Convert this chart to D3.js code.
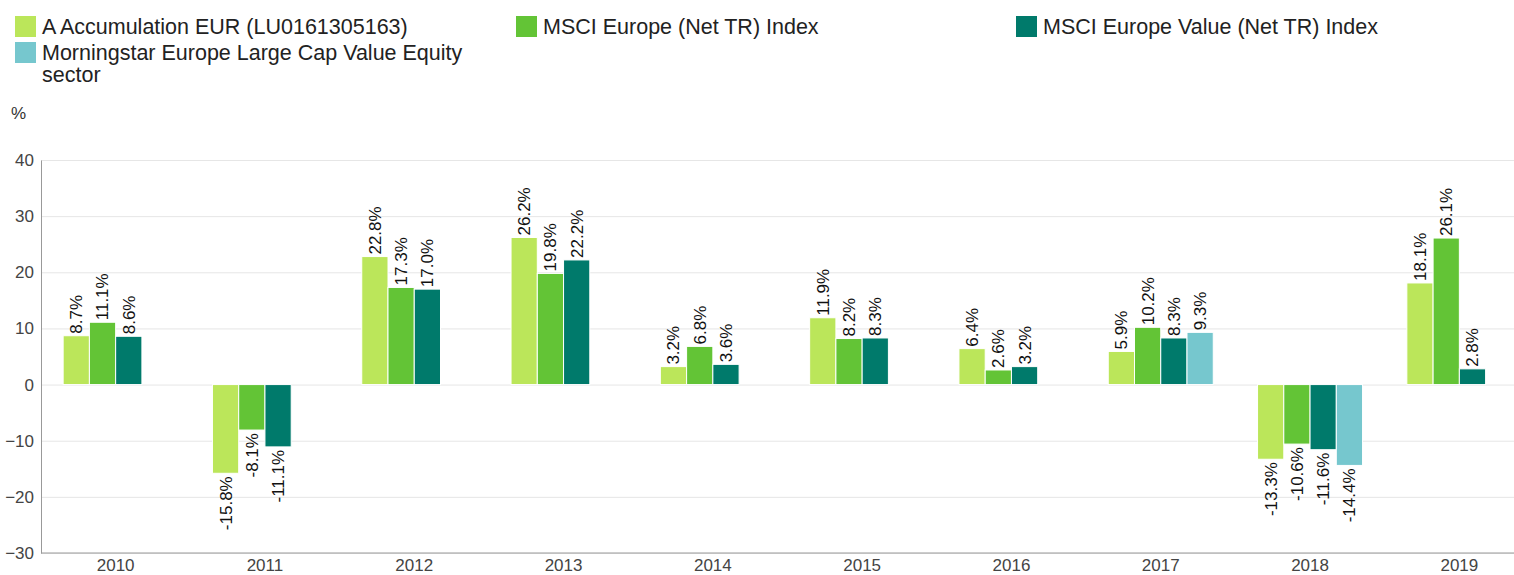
<!DOCTYPE html>
<html>
<head>
<meta charset="utf-8">
<script src="https://cdn.jsdelivr.net/npm/d3@7"></script>
<style>
  body { margin: 0; background: #fff; }
  svg { display: block; font-family: "Liberation Sans", Arial, sans-serif; }
  .grid line { stroke: #e6e6e6; }
  .grid .domain { display: none; }
  .y-axis text, .x-axis text { fill: #444; font-size: 17px; }
</style>
</head>
<body>
<div id="chart"></div>
<script>
const years = ["2010", "2011", "2012", "2013", "2014", "2015", "2016", "2017", "2018", "2019"];
const seriesNames = [
  "A Accumulation EUR (LU0161305163)",
  "MSCI Europe (Net TR) Index",
  "MSCI Europe Value (Net TR) Index",
  "Morningstar Europe Large Cap Value Equity sector"
];
const fundValues = [8.7, -15.8, 22.8, 26.2, 3.2, 11.9, 6.4, 5.9, -13.3, 18.1];
const msciValues = [11.1, -8.1, 17.3, 19.8, 6.8, 8.2, 2.6, 10.2, -10.6, 26.1];
const valueIdxValues = [8.6, -11.1, 17.0, 22.2, 3.6, 8.3, 3.2, 8.3, -11.6, 2.8];
const sectorValues = [null, null, null, null, null, null, null, 9.3, -14.4, null];
const colors = ["#bbe65a", "#63c436", "#007a6b", "#76c7ce"];
const yTicks = [-30, -20, -10, 0, 10, 20, 30, 40];

const allSeries = [fundValues, msciValues, valueIdxValues, sectorValues];

let width = 1514,
    height = 575,
    margin = ({ top: 160, right: -20, bottom: 22, left: 41 });

const svg = d3.select("#chart")
  .append("svg")
  .attr("width", width)
  .attr("height", height);

let x = d3.scaleBand()
  .domain(years)
  .range([margin.left, width - margin.right]);

let xs = d3.scaleBand()
  .domain(d3.range(allSeries.length))
  .range([0, 105]);

let y = d3.scaleLinear()
  .domain([-30, 40])
  .range([height - margin.bottom, margin.top]);

// grid lines
svg.append("g")
  .attr("class", "grid")
  .attr("transform", `translate(${margin.left},0)`)
  .call(d3.axisLeft(y).tickValues(yTicks).tickSize(-(width - margin.left)).tickFormat(""));

// y axis
svg.append("g")
  .attr("class", "y-axis")
  .attr("transform", `translate(${margin.left},0)`)
  .call(d3.axisLeft(y).tickValues(yTicks).tickSize(0).tickPadding(7))
  .call(g => g.select(".domain").attr("stroke", "#999"));

// x axis
svg.append("g")
  .attr("class", "x-axis")
  .attr("transform", `translate(0,${height - margin.bottom})`)
  .call(d3.axisBottom(x).tickSize(0).tickPadding(6))
  .call(g => g.select(".domain").attr("stroke", "#999").attr("d", `M${margin.left},0H${width}`));

// bars
const rows = [];
allSeries.forEach((vals, s) => vals.forEach((v, i) => {
  if (v !== null) rows.push({ s, year: years[i], v });
}));

const groupLeft = d => x(d.year) + x.bandwidth() / 2 - xs.range()[1] / 2;

svg.append("g")
  .selectAll("rect")
  .data(rows)
  .join("rect")
  .attr("x", d => groupLeft(d) + xs(d.s))
  .attr("width", xs.bandwidth())
  .attr("y", d => y(Math.max(0, d.v)))
  .attr("height", d => Math.abs(y(d.v) - y(0)))
  .attr("fill", d => colors[d.s])
  .attr("stroke", "#fff")
  .attr("stroke-width", 1);

// value labels, rotated
svg.append("g")
  .selectAll("text")
  .data(rows)
  .join("text")
  .attr("transform", d => {
    const cx = groupLeft(d) + xs(d.s) + xs.bandwidth() / 2;
    const cy = d.v >= 0 ? y(d.v) - 2 : y(d.v) + 3;
    return `translate(${cx},${cy}) rotate(-90)`;
  })
  .attr("dy", "0.35em")
  .attr("text-anchor", d => d.v >= 0 ? "start" : "end")
  .attr("font-size", 17)
  .attr("fill", "#111")
  .text(d => d.v.toFixed(1) + "%");

// legend
const legendPos = [[15, 16], [516, 16], [1016, 16], [15, 42]];
const legend = svg.append("g")
  .selectAll("g")
  .data(seriesNames)
  .join("g")
  .attr("transform", (d, i) => `translate(${legendPos[i][0]},${legendPos[i][1]})`);

legend.append("rect")
  .attr("width", 21)
  .attr("height", 21)
  .attr("fill", (d, i) => colors[i]);

legend.append("text")
  .attr("x", 27)
  .attr("y", 18)
  .attr("font-size", 21.5)
  .attr("fill", "#222")
  .each(function(d) {
    const t = d3.select(this);
    const words = d.split(" ");
    let line = [];
    let tspan = t.append("tspan").attr("x", 27).attr("dy", 0);
    words.forEach(w => {
      line.push(w);
      tspan.text(line.join(" "));
      if (tspan.node().getComputedTextLength() > 440 && line.length > 1) {
        line.pop();
        tspan.text(line.join(" "));
        line = [w];
        tspan = t.append("tspan").attr("x", 27).attr("dy", 22).text(w);
      }
    });
  });

svg.append("text")
  .attr("x", 11)
  .attr("y", 119)
  .attr("font-size", 17)
  .attr("fill", "#333")
  .text("%");
</script>
</body>
</html>
